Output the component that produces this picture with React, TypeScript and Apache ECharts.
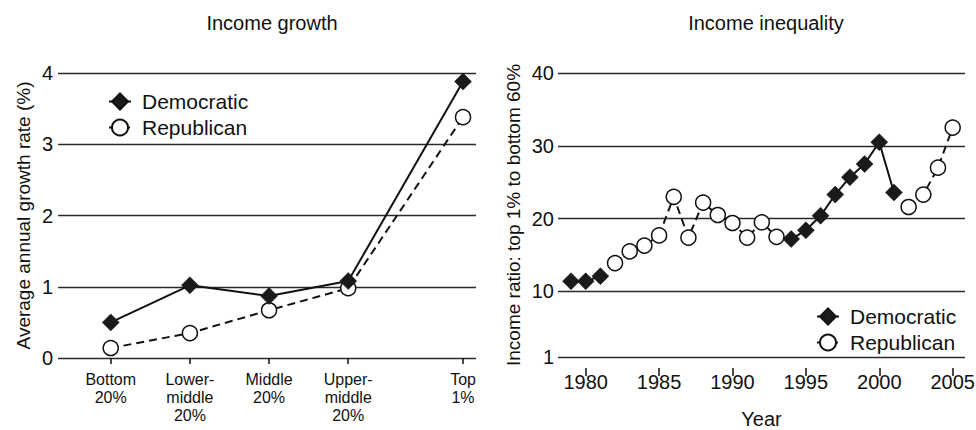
import React, { useEffect, useRef } from "react";
import * as echarts from "echarts";

// Left panel: income growth by income group
const growthCategories = ["Bottom\n20%", "Lower-\nmiddle\n20%", "Middle\n20%", "Upper-\nmiddle\n20%", "Top\n1%"];
const growthPositions = [0, 1, 2, 3, 4.45];
const demGrowth = [0.5, 1.02, 0.87, 1.08, 3.88];
const repGrowth = [0.14, 0.35, 0.67, 0.98, 3.38];
const growthTicks = [0, 1, 2, 3, 4];

// Right panel: income ratio top 1% to bottom 60%
const years = [1979, 1980, 1981, 1982, 1983, 1984, 1985, 1986, 1987, 1988, 1989, 1990, 1991, 1992, 1993, 1994, 1995, 1996, 1997, 1998, 1999, 2000, 2001, 2002, 2003, 2004, 2005];
const demRatio = [11.4, 11.4, 12.1, null, null, null, null, null, null, null, null, null, null, null, null, 17.2, 18.4, 20.4, 23.3, 25.7, 27.5, 30.5, 23.6, null, null, null, null];
const repRatio = [null, null, null, 13.9, 15.5, 16.3, 17.7, 23.0, 17.4, 22.2, 20.5, 19.4, 17.4, 19.5, 17.5, null, null, null, null, null, null, null, null, 21.6, 23.3, 27.0, 32.5];
const ratioTicks = [1, 10, 20, 30, 40];
const yearTicks = [1980, 1985, 1990, 1995, 2000, 2005];

const FONT = "'Liberation Sans', Arial, sans-serif";
const INK = "#111";

export default function App() {
  const ref = useRef<HTMLDivElement>(null);
  useEffect(() => {
    if (!ref.current) return;
    const chart = echarts.init(ref.current, null, { renderer: "svg" });
    const txt = { fontFamily: FONT, color: INK };
    const demLine = { color: INK, width: 2, type: "solid" as const };
    const repLine = { color: INK, width: 2, type: [8, 5] as any };
    const demItem = { color: "#1a1a1a", borderColor: INK, borderWidth: 0.5 };
    const repItem = { color: "#fff", borderColor: INK, borderWidth: 1.5 };
    const splitLine = { show: true, lineStyle: { color: "#2a2a2a", width: 1.3 } };
    const pair = (xs: number[], vs: (number | null)[]) => xs.map((x, i) => [x, vs[i] == null ? "-" : vs[i]]);

    chart.setOption({
      animation: false,
      backgroundColor: "#fff",
      textStyle: { fontFamily: FONT },
      title: [
        { text: "Income growth", left: 267, top: 8, textAlign: "center", textStyle: { ...txt, fontSize: 20, fontWeight: "normal" } },
        { text: "Income inequality", left: 761, top: 8, textAlign: "center", textStyle: { ...txt, fontSize: 20, fontWeight: "normal" } },
      ],
      legend: [
        {
          orient: "vertical", left: 103, top: 86, itemWidth: 22, itemHeight: 20, itemGap: 5,
          data: ["Democratic", "Republican"],
          textStyle: { ...txt, fontSize: 21, padding: [0, 0, 0, 6] },
          selectedMode: false,
        },
        {
          orient: "vertical", left: 811, top: 301, itemWidth: 22, itemHeight: 20, itemGap: 5,
          data: ["Democratic", "Republican"],
          textStyle: { ...txt, fontSize: 21, padding: [0, 0, 0, 6] },
          selectedMode: false,
        },
      ],
      grid: [
        { left: 58, top: 73, width: 418, height: 285, containLabel: false, outerBoundsMode: "none" },
        { left: 558, top: 73, width: 407, height: 284, containLabel: false, outerBoundsMode: "none" },
      ],
      xAxis: [
        {
          type: "value", gridIndex: 0, min: -0.666, max: 4.614, offset: 11,
          axisLine: { show: false },
          axisTick: { show: true, length: 6, customValues: growthPositions, lineStyle: { color: INK, width: 1.5 } },
          axisLabel: {
            ...txt, fontSize: 16, lineHeight: 18, margin: 1, customValues: growthPositions,
            formatter: (v: number) => {
              const i = growthPositions.findIndex((p) => Math.abs(p - v) < 1e-6);
              return i >= 0 ? growthCategories[i] : "";
            },
          },
          splitLine: { show: false },
        },
        {
          type: "value", gridIndex: 1, min: 1978.115, max: 2005.84, offset: 11,
          name: "Year", nameLocation: "middle", nameGap: 41,
          nameTextStyle: { ...txt, fontSize: 20 },
          axisLine: { show: false },
          axisTick: { show: true, length: 8, customValues: yearTicks, lineStyle: { color: INK, width: 1.5 } },
          axisLabel: { ...txt, fontSize: 20, margin: 4, customValues: yearTicks, formatter: (v: number) => String(v) },
          splitLine: { show: false },
        },
      ],
      yAxis: [
        {
          type: "value", gridIndex: 0, min: 0, max: 4, interval: 1,
          name: "Average annual growth rate (%)", nameLocation: "middle", nameGap: 25,
          nameTextStyle: { ...txt, fontSize: 19 },
          axisLine: { show: false }, axisTick: { show: false },
          axisLabel: { ...txt, fontSize: 20, margin: 5, customValues: growthTicks },
          splitLine,
        },
        {
          type: "value", gridIndex: 1, min: 1, max: 40,
          name: "Income ratio: top 1% to bottom 60%", nameLocation: "middle", nameGap: 35,
          nameTextStyle: { ...txt, fontSize: 19 },
          axisLine: { show: false },
          axisTick: { show: false, customValues: ratioTicks },
          axisLabel: { ...txt, fontSize: 20, margin: 4, customValues: ratioTicks },
          splitLine,
        },
      ],
      series: [
        {
          name: "Democratic", type: "line", xAxisIndex: 0, yAxisIndex: 0, z: 3,
          data: pair(growthPositions, demGrowth),
          symbol: "diamond", symbolSize: 17, lineStyle: demLine, itemStyle: demItem,
        },
        {
          name: "Republican", type: "line", xAxisIndex: 0, yAxisIndex: 0, z: 2,
          data: pair(growthPositions, repGrowth),
          symbol: "circle", symbolSize: 15, lineStyle: repLine, itemStyle: repItem,
        },
        {
          name: "Democratic", type: "line", xAxisIndex: 1, yAxisIndex: 1, z: 3,
          data: pair(years, demRatio), connectNulls: false,
          symbol: "diamond", symbolSize: 17, lineStyle: demLine, itemStyle: demItem,
        },
        {
          name: "Republican", type: "line", xAxisIndex: 1, yAxisIndex: 1, z: 2,
          data: pair(years, repRatio), connectNulls: false,
          symbol: "circle", symbolSize: 15, lineStyle: repLine, itemStyle: repItem,
        },
      ],
    });
    return () => chart.dispose();
  }, []);
  return <div ref={ref} style={{ position: "fixed", left: 0, top: 0, width: 976, height: 430 }} />;
}
